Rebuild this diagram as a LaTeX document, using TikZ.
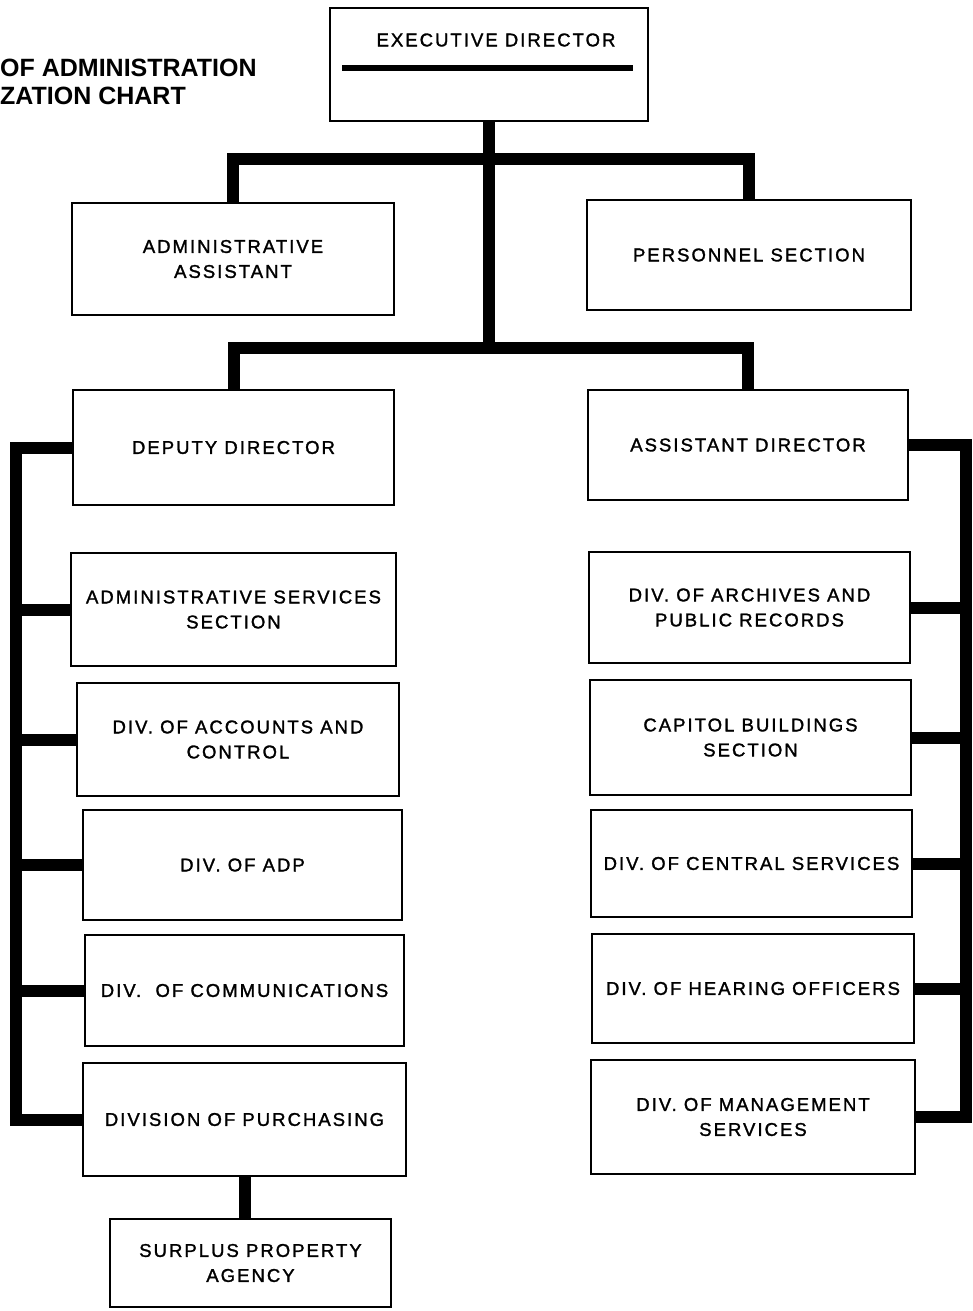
\documentclass[tikz,border=0pt]{standalone}
\usepackage{fontspec}
\setmainfont{Liberation Sans}
\newfontfamily\boxfont[LetterSpace=11,FakeBold=1.5]{Liberation Sans}
\begin{document}
\begin{tikzpicture}[x=1pt,y=-1pt,
  orgbox/.style={draw=black,line width=2.4pt,rectangle,inner sep=0pt,align=center,
    font=\boxfont\fontsize{18.5}{25}\selectfont},
  bus/.style={draw=black,line width=12pt,line join=miter},
  titletext/.style={anchor=west,inner sep=0pt,font=\bfseries\fontsize{25}{28}\selectfont}]
\useasboundingbox (0,0) rectangle (973,1311);

% title
\node[titletext] (title1) at (0,68) {OF ADMINISTRATION};
\node[titletext] (title2) at (0,96) {ZATION CHART};

% boxes
\node[orgbox,minimum width=318pt,minimum height=113pt] (exec) at (489,64.5) {};
\node[inner sep=0pt,font=\boxfont\fontsize{18.5}{25}\selectfont] (exect) at (496,40) {EXECUTIVE DIRECTOR};
\draw[line width=6pt] (342,68) -- (633,68);

\node[orgbox,minimum width=322pt,minimum height=112pt] (aa) at (233,259) {ADMINISTRATIVE\\ASSISTANT};
\node[orgbox,minimum width=324pt,minimum height=110pt] (ps) at (749,255) {PERSONNEL SECTION};
\node[orgbox,minimum width=321pt,minimum height=115pt] (dd) at (233.5,447.5) {DEPUTY DIRECTOR};
\node[orgbox,minimum width=320pt,minimum height=110pt] (ad) at (748,445) {ASSISTANT DIRECTOR};

\node[orgbox,minimum width=325pt,minimum height=113pt] (as) at (233.5,609.5) {ADMINISTRATIVE SERVICES\\SECTION};
\node[orgbox,minimum width=322pt,minimum height=113pt] (acc) at (238,739.5) {DIV. OF ACCOUNTS AND\\CONTROL};
\node[orgbox,minimum width=319pt,minimum height=110pt] (adp) at (242.5,865) {DIV. OF ADP};
\node[orgbox,minimum width=319pt,minimum height=111pt] (com) at (244.5,990.5) {DIV.\ \ OF COMMUNICATIONS};
\node[orgbox,minimum width=323pt,minimum height=113pt] (pur) at (244.5,1119.5) {DIVISION OF PURCHASING};
\node[orgbox,minimum width=281pt,minimum height=88pt] (sur) at (250.5,1263) {SURPLUS PROPERTY\\AGENCY};

\node[orgbox,minimum width=321pt,minimum height=111pt] (arc) at (749.5,607.5) {DIV. OF ARCHIVES AND\\PUBLIC RECORDS};
\node[orgbox,minimum width=321pt,minimum height=115pt] (cap) at (750.5,737.5) {CAPITOL BUILDINGS\\SECTION};
\node[orgbox,minimum width=321pt,minimum height=107pt] (cen) at (751.5,863.5) {DIV. OF CENTRAL SERVICES};
\node[orgbox,minimum width=322pt,minimum height=109pt] (hea) at (753,988.5) {DIV. OF HEARING OFFICERS};
\node[orgbox,minimum width=324pt,minimum height=114pt] (mgt) at (753,1117) {DIV. OF MANAGEMENT\\SERVICES};

% junctions
\coordinate (j1) at (489,159);
\coordinate (j2) at (489,348);
\coordinate (lbus) at (16,0);
\coordinate (rbus) at (966,0);

% connectors
\draw[bus] (exec.south) -- (j2);
\draw[bus] (aa.north) |- (j1) -| (ps.north);
\draw[bus] (dd.north) |- (j2) -| (ad.north);

\draw[bus] (dd.west) -| (pur.west -| lbus) -- (pur.west);
\foreach \b in {as,acc,adp,com}{\draw[bus] (\b.west) -- (\b.west -| lbus);}

\draw[bus] (ad.east) -| (mgt.east -| rbus) -- (mgt.east);
\foreach \b in {arc,cap,cen,hea}{\draw[bus] (\b.east) -- (\b.east -| rbus);}

\draw[bus] (pur.south) -- (pur.south |- sur.north);
\end{tikzpicture}
\end{document}
